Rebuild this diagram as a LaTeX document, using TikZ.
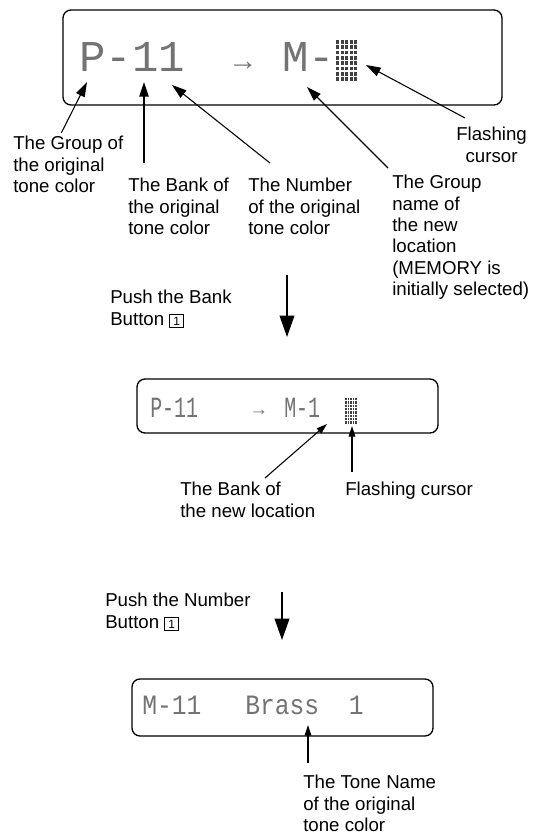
\documentclass[tikz,border=0pt]{standalone}
\usepackage{fontspec}
\setmainfont{Liberation Sans}
\newfontfamily\lcdfont{Liberation Mono}
\newfontfamily\lcdmid[FakeStretch=0.68]{Liberation Mono}
\newfontfamily\lcdlow[FakeStretch=0.88]{Liberation Mono}
\usetikzlibrary{arrows.meta}
\setlength{\fboxsep}{1.6pt}
\setlength{\fboxrule}{0.8pt}
\newcommand{\keycap}[1]{\fbox{\makebox[6.2pt]{\fontsize{9}{9}\selectfont #1}}}
\tikzset{
  display/.style={draw, line width=1pt, rounded corners=6pt, inner sep=0},
  lcd/.style={anchor=base west, inner sep=0, text=black!55},
  note/.style={anchor=north west, inner sep=0, align=left, font=\fontsize{14}{16}\selectfont},
  pointer/.style={line width=0.8pt, -{Triangle[length=11pt,width=7pt]}},
  small pointer/.style={line width=0.8pt, -{Triangle[length=8pt,width=5pt]}},
  flow/.style={line width=1.1pt, -{Triangle[length=16pt,width=11pt]}}
}
\begin{document}
\begin{tikzpicture}[x=0.75pt, y=-0.75pt]
  \useasboundingbox (0,0) rectangle (538,836);
  % first display
  \node[display, minimum width=329.25pt, minimum height=71.25pt] (disp1) at (282.5,57.5) {};
  \node[lcd, font=\lcdfont\fontsize{33}{33}\selectfont] (lcdPa) at (79,71) {P-11};
  \node[lcd, anchor=base, font=\lcdfont\fontsize{22}{22}\selectfont] (lcdAa) at (243,70) {→};
  \node[lcd, font=\lcdfont\fontsize{33}{33}\selectfont] (lcdMa) at (282,71) {M-};
  \foreach \i in {0,...,4} \foreach \j in {0,...,7}
    \fill[black!75] (336+\i*4.5, 40+\j*5.3) rectangle ++(3.3,3.8);
  \coordinate (tGrp) at (87,82);
  \coordinate (tBnk) at (144,82);
  \coordinate (tNum) at (172,85);
  \coordinate (tGnm) at (307,87);
  \coordinate (tCur) at (366,65);
  \node[note] (grp) at (13,136) {The Group of\\the original\\tone color};
  \node[note] (bnk) at (128,178) {The Bank of\\the original\\tone color};
  \node[note] (num) at (248,178) {The Number\\of the original\\tone color};
  \node[note] (gnm) at (392,175) {The Group\\name of\\the new\\location\\(MEMORY is\\initially selected)};
  \node[note, align=center] (fls) at (456,127) {Flashing\\cursor};
  \draw[pointer] (grp.north) ++(-7,-3) -- (tGrp);
  \draw[pointer] (bnk.north west) ++(16,-15) -- (tBnk);
  \draw[pointer] (num.north west) ++(22,-15) -- (tNum);
  \draw[pointer] (gnm.north west) ++(-4,-7) -- (tGnm);
  \draw[pointer] (fls.north west) ++(9,-9) -- (tCur);
  % bank button
  \node[note] (push1) at (110,290) {Push the Bank\\Button \keycap{1}};
  \coordinate (d1s) at (287,275);
  \coordinate (d1e) at (287,337);
  \draw[flow] (d1s) -- (d1e);
  % second display
  \node[display, minimum width=225.75pt, minimum height=40.5pt] (disp2) at (287.5,406) {};
  \node[lcd, font=\lcdmid\fontsize{22}{22}\selectfont] (lcdPb) at (150,417) {P-11};
  \node[lcd, anchor=base, font=\lcdfont\fontsize{14}{14}\selectfont] (lcdAb) at (259,415) {→};
  \node[lcd, font=\lcdmid\fontsize{22}{22}\selectfont] (lcdMb) at (284,417) {M-1};
  \foreach \i in {0,...,4} \foreach \j in {0,...,7}
    \fill[black!75] (345+\i*2.5, 398+\j*3.3) rectangle ++(1.8,2.4);
  \coordinate (tBnew) at (327,424);
  \coordinate (tCur2) at (352,426);
  \node[note] (bnew) at (180,482) {The Bank of\\the new location};
  \node[note] (fcur) at (345,482) {Flashing cursor};
  \draw[small pointer] (bnew.north west) ++(85,-4) -- (tBnew);
  \draw[small pointer] (fcur.north west) ++(7,-10) -- (tCur2);
  % number button
  \node[note] (push2) at (105,593) {Push the Number\\Button \keycap{1}};
  \coordinate (d2s) at (282,592);
  \coordinate (d2e) at (282,640);
  \draw[flow] (d2s) -- (d2e);
  % third display
  \node[display, minimum width=225.75pt, minimum height=42.75pt] (disp3) at (282.5,707.5) {};
  \node[lcd, font=\lcdlow\fontsize{21}{21}\selectfont] (lcdMc) at (142,714) {M-11};
  \node[lcd, font=\lcdlow\fontsize{21}{21}\selectfont] (lcdBc) at (245,714) {Brass~~1};
  \coordinate (tName) at (308,725);
  \node[note] (tname) at (303,775) {The Tone Name\\of the original\\tone color};
  \draw[small pointer] (tname.north west) ++(5,-12) -- (tName);
\end{tikzpicture}
\end{document}
